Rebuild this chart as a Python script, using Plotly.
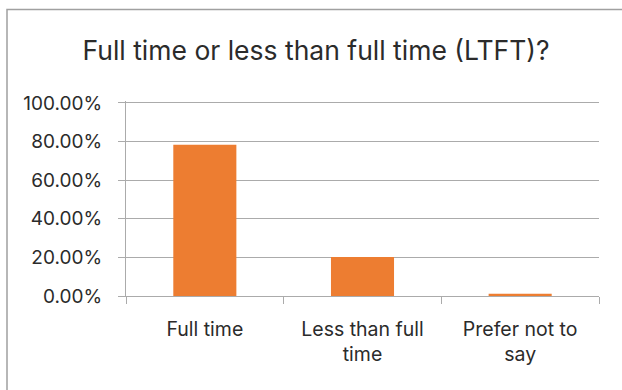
import plotly.graph_objects as go

# Survey responses: working pattern
categories = ["Full time", "Less than full time", "Prefer not to say"]
tick_labels = ["Full time", "Less than full<br>time", "Prefer not to<br>say"]
shares = [0.783, 0.202, 0.012]

FONT = "Inter, Lato, 'Open Sans', sans-serif"
GRID = "#ABABAB"
TEXT = "#2B2B2B"

fig = go.Figure(
    go.Bar(
        x=categories,
        y=shares,
        marker=dict(color="#ED7D31", line=dict(width=0)),
        width=0.4,
        hoverinfo="x+y",
    )
)

fig.update_layout(
    width=622,
    height=390,
    margin=dict(l=126, r=23, t=101, b=94),
    paper_bgcolor="white",
    plot_bgcolor="white",
    showlegend=False,
    font=dict(family=FONT, color=TEXT, size=19.5),
    title=dict(
        text="Full time or less than full time (LTFT)?",
        x=0.508,
        xanchor="center",
        y=1 - 51 / 390,
        yanchor="middle",
        font=dict(family=FONT, size=26.5, color=TEXT),
    ),
    shapes=[
        # chart frame (left and top edges visible)
        dict(
            type="rect",
            xref="paper",
            yref="paper",
            x0=(7 - 126) / 473,
            x1=1.2,
            y0=-0.8,
            y1=(296 - 9.5) / 195,
            line=dict(color="#A0A0A0", width=1.5),
            fillcolor="rgba(0,0,0,0)",
            layer="below",
        )
    ],
)

fig.update_xaxes(
    type="category",
    tickvals=categories,
    ticktext=tick_labels,
    showline=True,
    linecolor=GRID,
    linewidth=1.3,
    ticks="outside",
    tickson="boundaries",
    ticklen=7,
    tickcolor=GRID,
    tickwidth=1.3,
    showgrid=False,
    ticklabelstandoff=15,
    tickfont=dict(size=19.5, color=TEXT),
)

fig.update_yaxes(
    range=[0, 1.01],
    dtick=0.2,
    tick0=0,
    tickformat=".2%",
    showline=True,
    linecolor=GRID,
    linewidth=1.3,
    ticks="outside",
    ticklen=7,
    tickcolor=GRID,
    tickwidth=1.3,
    showgrid=True,
    gridcolor=GRID,
    gridwidth=1.3,
    zeroline=False,
    ticklabelstandoff=12,
    tickfont=dict(size=19, color=TEXT),
)

fig.write_html("out.html")
